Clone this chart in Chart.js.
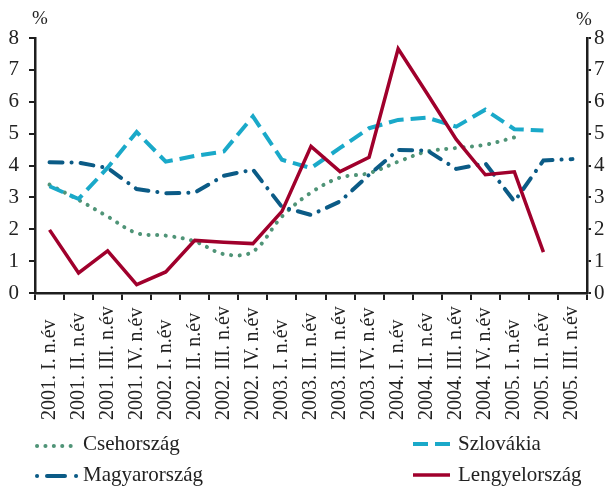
<!DOCTYPE html>
<html>
<head>
<meta charset="utf-8">
<script src="https://cdn.jsdelivr.net/npm/chart.js@4.4.1/dist/chart.umd.min.js"></script>
<style>
  html, body { margin: 0; padding: 0; background: #fff; }
  #wrap { position: relative; width: 611px; height: 486px; overflow: hidden; }
  canvas { position: absolute; left: 0; top: 0; }
  .lg { position: absolute; font-family: "Liberation Serif", "Times New Roman", serif; font-size: 21px; line-height: 21px; color: #222; white-space: nowrap; }
  svg { position: absolute; left: 0; top: 0; }
</style>
</head>
<body>
<div id="wrap">
  <canvas id="c" width="611" height="486"></canvas>
  <svg width="611" height="486" viewBox="0 0 611 486">
    <line x1="37" y1="446" x2="78" y2="446" stroke="#4f9477" stroke-width="4" stroke-linecap="round" stroke-dasharray="0.1 8.3"/>
    <line x1="413" y1="444" x2="450" y2="444" stroke="#1aa9c9" stroke-width="4" stroke-dasharray="15 7"/>
    <line x1="37" y1="476" x2="37.1" y2="476" stroke="#0b5b86" stroke-width="4" stroke-linecap="round"/>
    <line x1="47" y1="476" x2="65" y2="476" stroke="#0b5b86" stroke-width="4" stroke-linecap="round"/>
    <line x1="76" y1="476" x2="76.1" y2="476" stroke="#0b5b86" stroke-width="4" stroke-linecap="round"/>
    <line x1="413" y1="475" x2="450" y2="475" stroke="#a0002c" stroke-width="3.5"/>
  </svg>
  <div class="lg" style="left:83px; top:433px;">Csehország</div>
  <div class="lg" style="left:458px; top:433px;">Szlovákia</div>
  <div class="lg" style="left:83px; top:464px;">Magyarország</div>
  <div class="lg" style="left:458px; top:464px;">Lengyelország</div>
</div>
<script>
const categories = ["2001. I. n.év","2001. II. n.év","2001. III. n.év","2001. IV. n.év","2002. I. n.év","2002. II. n.év","2002. III. n.év","2002. IV. n.év","2003. I. n.év","2003. II. n.év","2003. III. n.év","2003. IV. n.év","2004. I. n.év","2004. II. n.év","2004. III. n.év","2004. IV. n.év","2005. I. n.év","2005. II. n.év","2005. III. n.év"];
const csehorszag   = [3.40, 2.92, 2.40, 1.88, 1.80, 1.62, 1.22, 1.30, 2.40, 3.15, 3.62, 3.76, 4.12, 4.44, 4.55, 4.65, 4.88, null, null];
const szlovakia    = [3.35, 2.95, 3.93, 5.05, 4.12, 4.30, 4.44, 5.54, 4.18, 3.92, 4.55, 5.17, 5.43, 5.50, 5.22, 5.75, 5.14, 5.10, null];
const magyarorszag = [4.10, 4.09, 3.92, 3.26, 3.13, 3.15, 3.68, 3.87, 2.70, 2.45, 2.87, 3.71, 4.49, 4.47, 3.89, 4.07, 2.87, 4.16, 4.20];
const lengyelorszag= [1.98, 0.63, 1.32, 0.26, 0.66, 1.65, 1.59, 1.55, 2.56, 4.60, 3.81, 4.26, 7.66, 6.25, 4.82, 3.71, 3.80, 1.28, null];
const yTicks = [0, 1, 2, 3, 4, 5, 6, 7, 8];
const unitLabel = "%";

const FONT = '"Liberation Serif", "Times New Roman", serif';
const AX = '#1e1e1e';

const extraText = {
  id: 'extraText',
  afterDraw(chart) {
    const ctx = chart.ctx;
    const xs = chart.scales.x;
    ctx.save();
    ctx.fillStyle = '#222';
    ctx.font = '20px ' + FONT;
    ctx.textAlign = 'left';
    ctx.textBaseline = 'alphabetic';
    xs.ticks.forEach((t, i) => {
      const x = xs.getPixelForTick(i);
      ctx.save();
      ctx.translate(x + 5, 420);
      ctx.rotate(-Math.PI / 2);
      ctx.fillText(categories[i], 0, 0);
      ctx.restore();
    });
    ctx.font = '19px ' + FONT;
    ctx.textAlign = 'center';
    ctx.textBaseline = 'middle';
    const ca = chart.chartArea;
    ctx.fillText(unitLabel, ca.left + 5, ca.top - 19);
    ctx.fillText(unitLabel, ca.right - 3, ca.top - 18);
    ctx.restore();
  }
};

const yCommon = (pos) => ({
  position: pos,
  min: 0, max: 8,
  afterBuildTicks(s) { s.ticks = yTicks.map(v => ({ value: v })); },
  ticks: { stepSize: 1, color: '#222', font: { family: FONT, size: 21 }, padding: pos === 'left' ? 10 : 3 },
  grid: { drawOnChartArea: false, drawTicks: true, tickLength: pos === 'left' ? 6 : 4, color: AX, lineWidth: 2 },
  border: { display: true, color: AX, width: 2.5 },
  afterFit(s) { s.width = pos === 'left' ? 35 : 24; }
});

new Chart(document.getElementById('c'), {
  type: 'line',
  data: {
    labels: categories,
    datasets: [
      { label: 'Lengyelország', data: lengyelorszag, borderColor: '#a0002c', borderWidth: 3.5, pointRadius: 0, tension: 0, order: 0 },
      { label: 'Magyarország', data: magyarorszag, borderColor: '#0b5b86', borderWidth: 4, borderDash: [13, 9, 0.1, 9], borderCapStyle: 'round', pointRadius: 0, tension: 0, order: 1 },
      { label: 'Szlovákia', data: szlovakia, borderColor: '#1aa9c9', borderWidth: 4, borderDash: [15, 7], pointRadius: 0, tension: 0, order: 2 },
      { label: 'Csehország', data: csehorszag, borderColor: '#4f9477', borderWidth: 4, borderDash: [0.1, 8.5], borderCapStyle: 'round', pointRadius: 0, tension: 0.35, order: 3 }
    ]
  },
  options: {
    responsive: false,
    animation: false,
    events: [],
    layout: { padding: { left: 0, right: 0, top: 38, bottom: 0 } },
    plugins: { legend: { display: false }, tooltip: { enabled: false } },
    scales: {
      x: {
        offset: true,
        ticks: { display: false },
        grid: { offset: true, drawOnChartArea: false, drawTicks: true, tickLength: 7, color: AX, lineWidth: 2 },
        border: { display: true, color: AX, width: 2.5 },
        afterFit(s) { s.height = 486 - 293; }
      },
      y: yCommon('left'),
      y2: yCommon('right')
    }
  },
  plugins: [extraText]
});
</script>
</body>
</html>
